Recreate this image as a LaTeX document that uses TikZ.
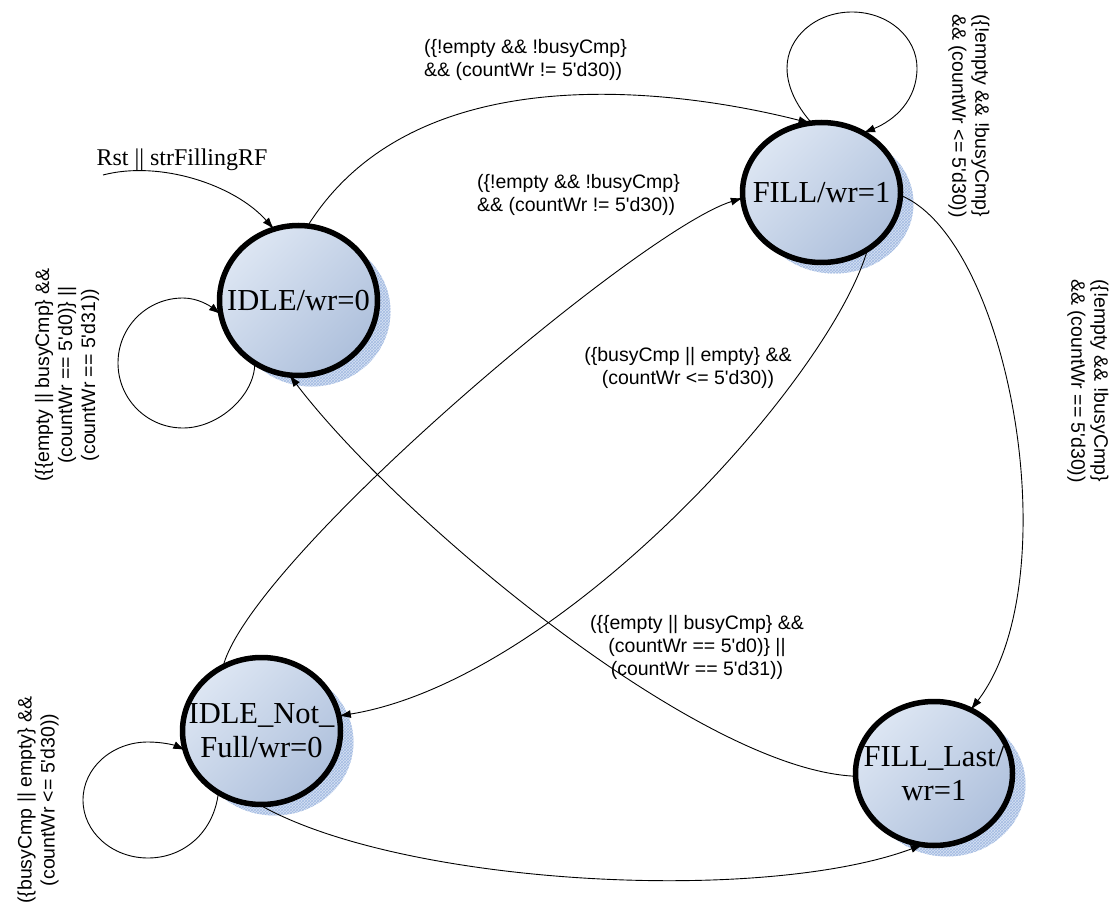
\documentclass[tikz,border=0pt]{standalone}
\usepackage{fontspec}
\setmainfont{Liberation Serif}
\newfontfamily\condfont{Liberation Sans}
\usetikzlibrary{shapes.geometric, arrows.meta, shadows, patterns}
\definecolor{stlight}{HTML}{DDE6F3}
\definecolor{stdark}{HTML}{AEC0DC}
\definecolor{shfill}{HTML}{D6E1F3}
\definecolor{shline}{HTML}{A3BBE2}
\newcommand\apo{\textquotesingle}
\tikzset{
  state/.style={ellipse, draw=black, line width=5.5pt, inner sep=0pt, outer sep=0pt,
    top color=stlight, bottom color=stdark, shading angle=45,
    general shadow={shadow xshift=13pt, shadow yshift=-11pt, fill=shfill},
    general shadow={shadow xshift=13pt, shadow yshift=-11pt, pattern=crosshatch, pattern color=shline}},
  statetext/.style={font=\fontsize{30.5}{34}\selectfont, align=center, inner sep=0pt},
  trans/.style={line width=0.9pt, -{Latex[length=12pt,width=8pt]}},
  cond/.style={font=\condfont\fontsize{19.5}{23}\selectfont, inner sep=0pt},
}
\begin{document}
\begin{tikzpicture}[x=1pt,y=-1pt]
\useasboundingbox (0,0) rectangle (1114,909);

% states
\node[state, minimum width=158pt, minimum height=150pt,
  label={[statetext]center:IDLE/wr=0}] (idle) at (298.5,300.5) {};
\node[state, minimum width=158pt, minimum height=140pt,
  label={[statetext]center:FILL/wr=1}] (fill) at (821.5,192.5) {};
\node[state, minimum width=158pt, minimum height=147pt,
  label={[statetext]center:IDLE\_Not\_\\Full/wr=0}] (nf) at (261.5,731) {};
\node[state, minimum width=157pt, minimum height=144pt,
  label={[statetext]center:FILL\_Last/\\wr=1}] (last) at (934,773.5) {};

% reset entry
\coordinate (rst) at (103,175);
\node[font=\fontsize{24}{28}\selectfont, inner sep=0pt] (rstlbl) at (182,160) {Rst || strFillingRF};
\draw[trans] (rst) .. controls (160,160) and (235,185) .. (idle.109);

% transitions between states
\draw[trans] (idle.83) .. controls (421,45) and (700,95) .. (fill.99);
\draw[trans] (nf.121) .. controls (250,560) and (640,230) .. (fill.184);
\draw[trans] (fill.-51) .. controls (830,380) and (560,680) .. (nf.11);
\draw[trans] (fill.-2) .. controls (1010,240) and (1070,580) .. (last.60);
\draw[trans] (last.182) .. controls (700,770) and (400,520) .. (idle.263);
\draw[trans] (nf.268) .. controls (400,885) and (760,905) .. (last.261);

% self loops
\draw[trans] (idle.235) .. controls (255,395) and (219,428) .. (183,428)
  .. controls (147,428) and (118,399) .. (118,363)
  .. controls (118,327) and (147,298) .. (183,298)
  .. controls (198,298) and (210,306) .. (idle.190);
\draw[trans] (fill.98) .. controls (800,110) and (787,90) .. (787,68)
  .. controls (787,37) and (816,12) .. (852,12)
  .. controls (888,12) and (917,37) .. (917,68)
  .. controls (917,100) and (895,120) .. (fill.55);
\draw[trans] (nf.235) .. controls (214,832) and (184,858) .. (148,858)
  .. controls (112,858) and (83,832) .. (83,800)
  .. controls (83,768) and (112,742) .. (148,742)
  .. controls (162,742) and (174,745) .. (nf.194);

% transition conditions
\node[cond, anchor=west, align=left] (c1) at (424,60)
  {(\{!empty \&\& !busyCmp\}\\\&\& (countWr != 5\apo d30))};
\node[cond, anchor=west, align=left] (c2) at (477,195)
  {(\{!empty \&\& !busyCmp\}\\\&\& (countWr != 5\apo d30))};
\node[cond, align=center] (c3) at (688,368)
  {(\{busyCmp || empty\} \&\&\\(countWr <= 5\apo d30))};
\node[cond, rotate=-90, align=left] (c4) at (969,116)
  {(\{!empty \&\& !busyCmp\}\\\&\& (countWr <= 5\apo d30))};
\node[cond, rotate=-90, align=left] (c5) at (1088,381)
  {(\{!empty \&\& !busyCmp\}\\\&\& (countWr == 5\apo d30))};
\node[cond, rotate=90, align=center] (c6) at (67,375)
  {(\{\{empty || busyCmp\} \&\&\\(countWr == 5\apo d0)\} ||\\(countWr == 5\apo d31))};
\node[cond, rotate=90, align=center] (c7) at (38,800)
  {(\{busyCmp || empty\} \&\&\\(countWr <= 5\apo d30))};
\node[cond, align=center] (c8) at (697,647)
  {(\{\{empty || busyCmp\} \&\&\\(countWr == 5\apo d0)\} ||\\(countWr == 5\apo d31))};
\end{tikzpicture}
\end{document}
